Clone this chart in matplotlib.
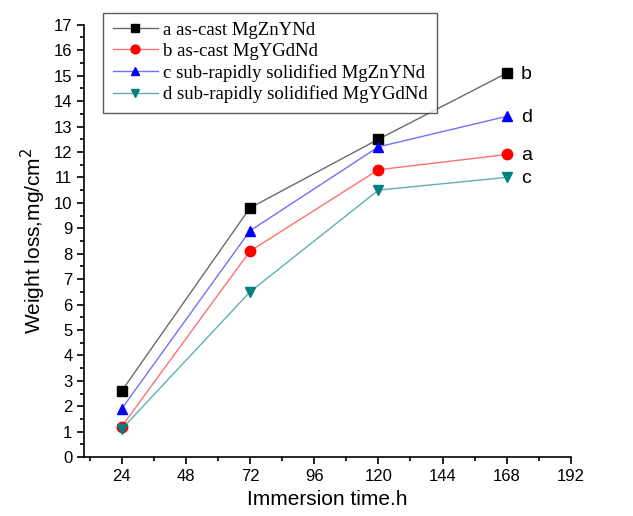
"""Weight loss vs immersion time for Mg alloys
"""
import matplotlib.pyplot as plt
from matplotlib.ticker import MultipleLocator

# Data
time_h = [24, 72, 120, 168]
loss_a = [2.6, 9.8, 12.5, 15.1]
loss_b = [1.2, 8.1, 11.3, 11.9]
loss_c = [1.9, 8.9, 12.2, 13.4]
loss_d = [1.1, 6.5, 10.5, 11.0]
labels = ['a as-cast MgZnYNd', 'b as-cast MgYGdNd',
          'c sub-rapidly solidified MgZnYNd', 'd sub-rapidly solidified MgYGdNd']
end_tags = ['b', 'a', 'd', 'c']

plt.rcParams['font.family'] = ['Liberation Sans', 'DejaVu Sans']

fig = plt.figure(figsize=(6.33, 5.16), dpi=100)
ax = fig.add_axes([0.133, 0.114, 0.769, 0.838])

series = [
    (loss_a, '#000000', '#6a6a6a', 's', 6.5),
    (loss_b, '#ff0000', '#ff7070', 'o', 7.5),
    (loss_c, '#0000ff', '#7070ff', '^', 7.5),
    (loss_d, '#008080', '#60b0b0', 'v', 7.5),
]
handles = []
for (vals, mc, lc, mk, ms), lab in zip(series, labels):
    h, = ax.plot(time_h, vals, color=lc, lw=1, marker=mk, markersize=ms,
                 markerfacecolor=mc, markeredgecolor=mc, label=lab)
    handles.append(h)

# Tags at the right end
for vals, tag in zip([loss_a, loss_b, loss_c, loss_d], end_tags):
    ax.annotate(tag, (time_h[-1], vals[-1]), xytext=(10, -1),
                textcoords='offset points', fontsize=14, va='center')

ax.set_xlim(10, 192)
ax.set_ylim(0, 17)
ax.xaxis.set_major_locator(MultipleLocator(24))
ax.xaxis.set_minor_locator(MultipleLocator(12))
ax.yaxis.set_major_locator(MultipleLocator(1))
ax.yaxis.set_minor_locator(MultipleLocator(0.5))
ax.tick_params(which='major', direction='out', length=5, width=1.2, labelsize=12)
ax.tick_params(which='minor', direction='out', length=3, width=1.2)
ax.spines['top'].set_visible(False)
ax.spines['right'].set_visible(False)
ax.spines['left'].set_linewidth(1.2)
ax.spines['bottom'].set_linewidth(1.2)

ax.set_xlabel('Immersion time.h', fontsize=15)
ax.set_ylabel('Weight loss,mg/cm$^2$', fontsize=15)

leg = ax.legend(handles=handles, loc='upper left', bbox_to_anchor=(0.02, 1.05),
                prop={'family': 'Liberation Serif', 'size': 13.5},
                frameon=True, fancybox=False, edgecolor='#333333',
                handlelength=2.4, borderpad=0.5, labelspacing=0.2,
                handletextpad=0.3, markerscale=0.85)
leg.get_frame().set_linewidth(1)

fig.savefig('out.png')
